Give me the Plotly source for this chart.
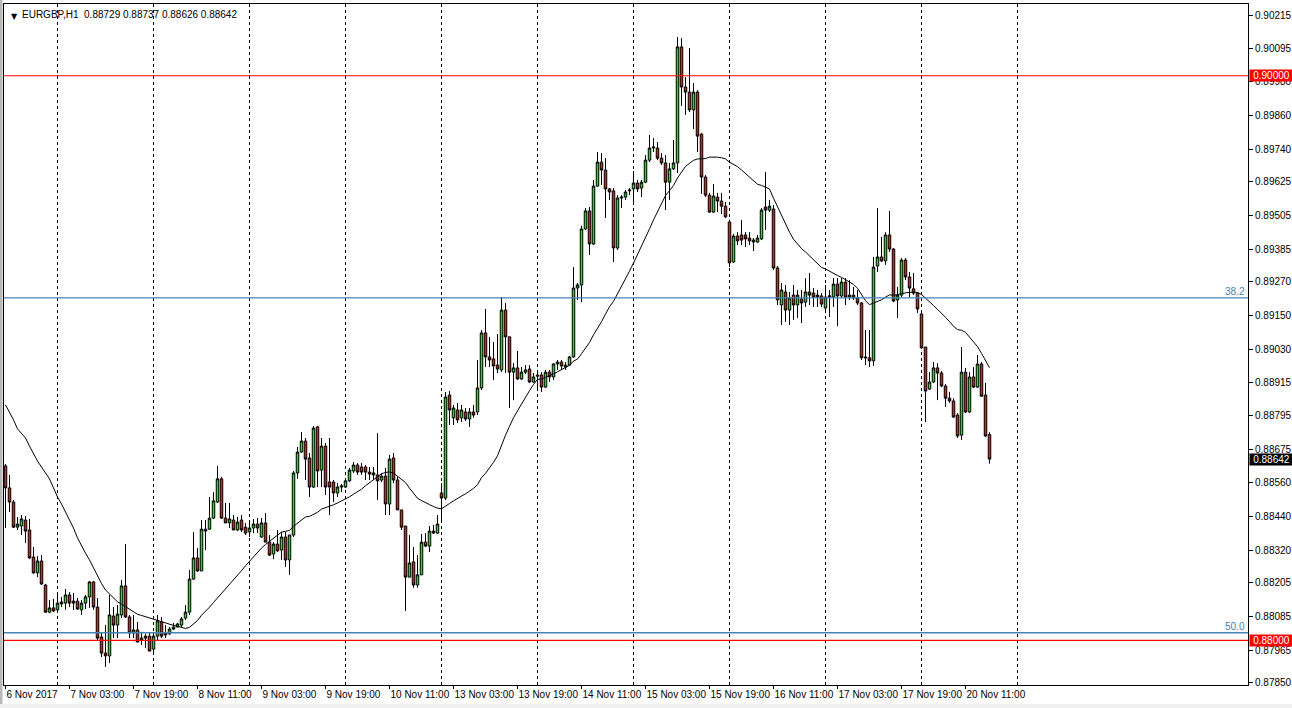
import plotly.graph_objects as go

# ---------------- data (EURGBP, H1) ----------------
opens = [0.88618,0.88540,0.88490,0.88401,0.88405,0.88426,0.88391,0.88295,0.88239,0.88281,
0.88196,0.88100,0.88115,0.88108,0.88129,0.88132,0.88161,0.88139,0.88139,0.88108,
0.88132,0.88154,0.88207,0.88118,0.88012,0.87955,0.87945,0.88086,0.88054,0.88090,
0.88193,0.88083,0.88026,0.88037,0.88001,0.88015,0.88015,0.87969,0.88015,0.88065,
0.88026,0.88023,0.88040,0.88047,0.88054,0.88079,0.88100,0.88217,0.88292,0.88246,
0.88387,0.88394,0.88433,0.88490,0.88572,0.88433,0.88416,0.88426,0.88391,0.88426,
0.88401,0.88384,0.88398,0.88412,0.88366,0.88416,0.88348,0.88306,0.88341,0.88320,
0.88366,0.88285,0.88373,0.88593,0.88667,0.88706,0.88646,0.88543,0.88756,0.88603,
0.88688,0.88561,0.88561,0.88522,0.88543,0.88543,0.88565,0.88600,0.88621,0.88614,
0.88614,0.88596,0.88593,0.88586,0.88568,0.88582,0.88483,0.88646,0.88568,0.88462,
0.88405,0.88224,0.88278,0.88196,0.88232,0.88348,0.88334,0.88387,0.88380,0.88522,
0.88504,0.88869,0.88788,0.88816,0.88788,0.88809,0.88784,0.88809,0.88809,0.88894,
0.89089,0.89004,0.88997,0.88975,0.88958,0.89170,0.89075,0.88950,0.88965,0.88926,
0.88950,0.88961,0.88915,0.88940,0.88940,0.88897,0.88950,0.88933,0.88979,0.88986,
0.88968,0.88975,0.89004,0.89248,0.89259,0.89457,0.89521,0.89404,0.89609,0.89694,
0.89666,0.89599,0.89592,0.89390,0.89567,0.89570,0.89592,0.89599,0.89620,0.89602,
0.89623,0.89701,0.89744,0.89744,0.89708,0.89691,0.89623,0.89670,0.89691,0.90102,
0.89960,0.89942,0.89879,0.89942,0.89793,0.89641,0.89577,0.89517,0.89570,0.89556,
0.89538,0.89482,0.89340,0.89432,0.89436,0.89436,0.89425,0.89418,0.89411,0.89422,
0.89535,0.89524,0.89528,0.89319,0.89188,0.89234,0.89170,0.89223,0.89188,0.89209,
0.89198,0.89234,0.89230,0.89223,0.89220,0.89177,0.89216,0.89216,0.89262,0.89220,
0.89269,0.89216,0.89223,0.89213,0.89195,0.89004,0.89001,0.88990,0.89326,0.89358,
0.89344,0.89436,0.89386,0.89206,0.89223,0.89347,0.89287,0.89245,0.89230,0.89156,
0.89039,0.88890,0.88915,0.88965,0.88947,0.88901,0.88858,0.88848,0.88798,0.88727,
0.88950,0.88809,0.88933,0.88897,0.88979,0.88869,0.88729]

highs = [0.88625,0.88586,0.88497,0.88437,0.88444,0.88440,0.88430,0.88331,0.88299,0.88302,
0.88200,0.88143,0.88147,0.88168,0.88154,0.88182,0.88171,0.88168,0.88150,0.88143,
0.88161,0.88210,0.88210,0.88150,0.88030,0.88054,0.88161,0.88118,0.88125,0.88214,
0.88341,0.88090,0.88090,0.88065,0.88026,0.88023,0.88026,0.88030,0.88090,0.88083,
0.88054,0.88047,0.88062,0.88062,0.88083,0.88125,0.88249,0.88384,0.88327,0.88426,
0.88426,0.88508,0.88525,0.88618,0.88579,0.88487,0.88487,0.88444,0.88437,0.88444,
0.88416,0.88426,0.88430,0.88433,0.88433,0.88451,0.88373,0.88348,0.88391,0.88384,
0.88384,0.88373,0.88600,0.88685,0.88738,0.88717,0.88664,0.88759,0.88759,0.88717,
0.88699,0.88717,0.88568,0.88557,0.88554,0.88575,0.88611,0.88632,0.88628,0.88628,
0.88621,0.88614,0.88614,0.88734,0.88593,0.88611,0.88657,0.88664,0.88579,0.88462,
0.88405,0.88373,0.88331,0.88302,0.88377,0.88380,0.88405,0.88409,0.88444,0.88557,
0.88880,0.88883,0.88834,0.88841,0.88834,0.88823,0.88823,0.88834,0.88993,0.89099,
0.89174,0.89075,0.89057,0.89085,0.89216,0.89195,0.89075,0.88982,0.89025,0.88968,
0.88975,0.88975,0.88947,0.88958,0.88950,0.88958,0.88958,0.88982,0.88993,0.88993,
0.88986,0.89007,0.89322,0.89266,0.89468,0.89531,0.89535,0.89631,0.89730,0.89726,
0.89708,0.89602,0.89602,0.89577,0.89577,0.89595,0.89602,0.89662,0.89631,0.89631,
0.89719,0.89790,0.89779,0.89765,0.89726,0.89719,0.89691,0.89772,0.90137,0.90133,
0.89995,0.90098,0.89974,0.89949,0.89797,0.89648,0.89585,0.89616,0.89585,0.89585,
0.89553,0.89485,0.89439,0.89446,0.89489,0.89446,0.89446,0.89425,0.89436,0.89531,
0.89659,0.89560,0.89542,0.89326,0.89266,0.89259,0.89234,0.89259,0.89241,0.89241,
0.89283,0.89301,0.89248,0.89241,0.89230,0.89259,0.89241,0.89283,0.89283,0.89283,
0.89283,0.89276,0.89252,0.89241,0.89198,0.89099,0.89099,0.89358,0.89531,0.89429,
0.89446,0.89521,0.89390,0.89252,0.89354,0.89354,0.89305,0.89301,0.89234,0.89160,
0.89039,0.88950,0.88986,0.88982,0.88954,0.88908,0.88880,0.88858,0.88805,0.89039,
0.88965,0.88950,0.88968,0.89011,0.88986,0.88912,0.88737]

lows = [0.88398,0.88455,0.88398,0.88391,0.88373,0.88345,0.88288,0.88235,0.88224,0.88196,
0.88097,0.88097,0.88100,0.88100,0.88118,0.88108,0.88118,0.88108,0.88108,0.88090,
0.88111,0.88115,0.88108,0.88001,0.87941,0.87906,0.87920,0.88008,0.88008,0.88079,
0.88079,0.88008,0.88008,0.87994,0.87984,0.87973,0.87962,0.87948,0.88001,0.88008,
0.88008,0.88019,0.88037,0.88047,0.88047,0.88072,0.88090,0.88214,0.88242,0.88246,
0.88320,0.88391,0.88430,0.88487,0.88430,0.88416,0.88398,0.88391,0.88387,0.88384,
0.88373,0.88366,0.88380,0.88380,0.88363,0.88348,0.88299,0.88288,0.88313,0.88285,
0.88260,0.88232,0.88366,0.88572,0.88664,0.88568,0.88508,0.88540,0.88543,0.88543,
0.88515,0.88444,0.88490,0.88508,0.88525,0.88540,0.88561,0.88593,0.88586,0.88586,
0.88568,0.88568,0.88568,0.88497,0.88561,0.88444,0.88444,0.88557,0.88462,0.88391,
0.88104,0.88224,0.88186,0.88186,0.88232,0.88331,0.88313,0.88377,0.88377,0.88416,
0.88497,0.88763,0.88763,0.88770,0.88773,0.88777,0.88756,0.88788,0.88798,0.88887,
0.88968,0.88968,0.88922,0.88947,0.88950,0.88947,0.88823,0.88851,0.88922,0.88922,
0.88943,0.88912,0.88912,0.88894,0.88880,0.88894,0.88915,0.88922,0.88958,0.88958,
0.88958,0.88972,0.89001,0.89206,0.89198,0.89454,0.89365,0.89400,0.89606,0.89613,
0.89496,0.89560,0.89340,0.89383,0.89531,0.89560,0.89577,0.89542,0.89588,0.89570,
0.89620,0.89694,0.89730,0.89701,0.89684,0.89524,0.89560,0.89666,0.89655,0.89893,
0.89861,0.89871,0.89811,0.89730,0.89581,0.89570,0.89514,0.89514,0.89517,0.89510,
0.89496,0.89322,0.89337,0.89400,0.89400,0.89393,0.89400,0.89379,0.89408,0.89418,
0.89454,0.89517,0.89312,0.89188,0.89117,0.89128,0.89117,0.89135,0.89142,0.89124,
0.89181,0.89188,0.89181,0.89181,0.89181,0.89163,0.89145,0.89181,0.89113,0.89213,
0.89188,0.89206,0.89206,0.89188,0.88993,0.88975,0.88968,0.88972,0.89305,0.89340,
0.89330,0.89376,0.89198,0.89142,0.89216,0.89276,0.89216,0.89223,0.89160,0.89032,
0.88773,0.88887,0.88912,0.88851,0.88897,0.88827,0.88841,0.88788,0.88717,0.88710,
0.88805,0.88805,0.88894,0.88894,0.88862,0.88720,0.88626]

closes = [0.88540,0.88490,0.88401,0.88412,0.88430,0.88387,0.88292,0.88239,0.88281,0.88200,
0.88100,0.88115,0.88104,0.88132,0.88136,0.88161,0.88132,0.88132,0.88111,0.88132,
0.88154,0.88207,0.88118,0.88008,0.87955,0.87945,0.88090,0.88054,0.88093,0.88193,
0.88083,0.88026,0.88037,0.87994,0.88008,0.88008,0.87962,0.88015,0.88069,0.88015,
0.88019,0.88040,0.88047,0.88058,0.88076,0.88100,0.88217,0.88292,0.88246,0.88394,
0.88394,0.88433,0.88494,0.88572,0.88433,0.88416,0.88430,0.88391,0.88419,0.88391,
0.88380,0.88398,0.88412,0.88398,0.88416,0.88348,0.88302,0.88341,0.88317,0.88366,
0.88285,0.88373,0.88593,0.88667,0.88706,0.88642,0.88543,0.88752,0.88600,0.88688,
0.88543,0.88543,0.88522,0.88543,0.88547,0.88565,0.88603,0.88621,0.88596,0.88596,
0.88596,0.88589,0.88586,0.88565,0.88582,0.88483,0.88642,0.88568,0.88462,0.88401,
0.88224,0.88274,0.88196,0.88232,0.88348,0.88334,0.88387,0.88380,0.88412,0.88504,
0.88862,0.88816,0.88823,0.88781,0.88816,0.88784,0.88809,0.88798,0.88894,0.89089,
0.89004,0.88993,0.88972,0.88961,0.89170,0.89075,0.88950,0.88965,0.88926,0.88950,
0.88958,0.88915,0.88933,0.88936,0.88897,0.88950,0.88933,0.88979,0.88986,0.88972,
0.88975,0.89004,0.89248,0.89259,0.89457,0.89521,0.89404,0.89609,0.89694,0.89666,
0.89599,0.89588,0.89390,0.89567,0.89570,0.89588,0.89595,0.89620,0.89599,0.89623,
0.89701,0.89744,0.89747,0.89708,0.89691,0.89623,0.89670,0.89691,0.90102,0.89960,
0.89942,0.89879,0.89942,0.89786,0.89641,0.89577,0.89517,0.89574,0.89556,0.89538,
0.89500,0.89337,0.89432,0.89415,0.89418,0.89422,0.89415,0.89411,0.89425,0.89524,
0.89524,0.89538,0.89319,0.89206,0.89241,0.89170,0.89213,0.89188,0.89223,0.89195,
0.89234,0.89223,0.89216,0.89216,0.89191,0.89216,0.89220,0.89262,0.89220,0.89269,
0.89216,0.89223,0.89213,0.89195,0.89001,0.89001,0.88990,0.89322,0.89358,0.89344,
0.89436,0.89386,0.89202,0.89223,0.89347,0.89287,0.89248,0.89230,0.89174,0.89036,
0.88883,0.88915,0.88965,0.88947,0.88901,0.88858,0.88848,0.88791,0.88724,0.88950,
0.88809,0.88933,0.88897,0.88979,0.88865,0.88724,0.88642]

# moving-average values for the first bars (its window starts before the visible data)
ma_head = [0.88834,0.88809,0.88781,0.88749,0.88734,0.88717,0.88688,0.88660,0.88635,0.88614,
0.88593,0.88572,0.88540,0.88508,0.88483,0.88455,0.88426,0.88398,0.88363,0.88334,
0.88309,0.88285,0.88256]
MA_PERIOD = 24

time_tick_bars = [0,16,32,48,64,80,96,112,128,144,160,176,192,208,224,240]
time_tick_text = ["6 Nov 2017","7 Nov 03:00","7 Nov 19:00","8 Nov 11:00","9 Nov 03:00",
                  "9 Nov 19:00","10 Nov 11:00","13 Nov 03:00","13 Nov 19:00","14 Nov 11:00",
                  "15 Nov 03:00","15 Nov 19:00","16 Nov 11:00","17 Nov 03:00","17 Nov 19:00",
                  "20 Nov 11:00"]
price_ticks = [0.90215,0.90095,0.89980,0.89860,0.89740,0.89625,0.89505,0.89385,0.89270,0.89150,
               0.89030,0.88915,0.88795,0.88675,0.88560,0.88440,0.88320,0.88205,0.88085,0.87965,0.87850]
red_levels = [0.90000, 0.88000]
fib_levels = [0.89213, 0.88027]
fib_names = ["38.2", "50.0"]
symbol = "EURGBP,H1"

# ---------------- styling ----------------
FONT = "Liberation Sans, Arial, sans-serif"
FS = 10
BULL = "#00f000"
BEAR = "#ff1010"
FIBC = "#4682b4"
W, H = 1292, 708
ML, MR, MT, MB = 4, 44, 4, 23
PW = W - ML - MR
PH = H - MT - MB
X0 = -0.375
XR = [X0, X0 + PW / 4.0]
YR = [0.878419, 0.902540]

n = len(closes)
xs = list(range(n))
ma = list(ma_head) + [sum(closes[i - MA_PERIOD + 1:i + 1]) / MA_PERIOD for i in range(len(ma_head), n)]

fig = go.Figure()
fig.add_trace(go.Candlestick(
    x=xs, open=opens, high=highs, low=lows, close=closes,
    increasing=dict(fillcolor=BULL, line=dict(color="black", width=1)),
    decreasing=dict(fillcolor=BEAR, line=dict(color="black", width=1)),
    whiskerwidth=0, hoverinfo="skip", showlegend=False))
fig.add_trace(go.Scatter(x=xs, y=ma, mode="lines", line=dict(color="black", width=1),
                         hoverinfo="skip", showlegend=False))

shapes = []
# vertical dashed grid every 24 bars (only over the bar area, as in the terminal)
for k in range(11):
    g = 13 + 24 * k
    shapes.append(dict(type="line", xref="x", yref="paper", x0=g, x1=g, y0=0, y1=1,
                       line=dict(color="black", width=1, dash="3px,3px"), layer="below"))
for lv in red_levels:
    shapes.append(dict(type="line", xref="paper", yref="y", x0=0, x1=1, y0=lv, y1=lv,
                       line=dict(color="#ff0000", width=1.1), layer="above"))
for lv in fib_levels:
    shapes.append(dict(type="line", xref="paper", yref="y", x0=0, x1=1, y0=lv, y1=lv,
                       line=dict(color=FIBC, width=1.3), layer="above"))
# window edge strip on the left
shapes.append(dict(type="rect", xref="paper", yref="paper", x0=-ML / PW, x1=-1.5 / PW,
                   y0=-MB / PH, y1=1 + MT / PH,
                   fillcolor="#b8b8b8", line=dict(width=0), layer="above"))
# light strip at the bottom of the window
shapes.append(dict(type="rect", xref="paper", yref="paper", x0=-ML / PW, x1=1 + MR / PW,
                   y0=-MB / PH, y1=-(MB - 4) / PH,
                   fillcolor="#f0f0f0", line=dict(width=0), layer="above"))

ann = []
ann.append(dict(xref="paper", yref="paper", x=0, y=1, xanchor="left", yanchor="top",
                xshift=5, yshift=-6, text="▼", showarrow=False,
                font=dict(family="DejaVu Sans", size=8, color="black")))
ann.append(dict(xref="paper", yref="paper", x=0, y=1, xanchor="left", yanchor="top",
                xshift=16, yshift=-3, showarrow=False,
                text=symbol + "\u00a0\u00a0" + " ".join(f"{v:.5f}" for v in
                     [opens[-1], highs[-1], lows[-1], closes[-1]]),
                font=dict(family=FONT, size=FS, color="black")))
for lv, nm in zip(fib_levels, fib_names):
    ann.append(dict(xref="paper", yref="y", x=1, y=lv, xanchor="right", yanchor="bottom",
                    xshift=-1, yshift=-1, text=nm, showarrow=False,
                    font=dict(family=FONT, size=FS, color=FIBC)))
for lv in red_levels:
    ann.append(dict(xref="paper", yref="y", x=1, y=lv, xanchor="left", yanchor="middle",
                    xshift=1, text=f"{lv:.5f}", showarrow=False, bgcolor="#ff0000",
                    width=43, height=11, borderpad=0,
                    font=dict(family=FONT, size=FS, color="white")))
ann.append(dict(xref="paper", yref="y", x=1, y=closes[-1], xanchor="left", yanchor="middle",
                xshift=1, text=f"{closes[-1]:.5f}", showarrow=False, bgcolor="black",
                width=43, height=11, borderpad=0,
                font=dict(family=FONT, size=FS, color="white")))

fig.update_layout(
    width=W, height=H, margin=dict(l=ML, r=MR, t=MT, b=MB, pad=0, autoexpand=False),
    paper_bgcolor="white", plot_bgcolor="white",
    font=dict(family=FONT, size=FS, color="black"),
    hovermode=False, dragmode=False, showlegend=False,
    boxgap=0.375, boxgroupgap=0,
    shapes=shapes, annotations=ann,
    xaxis=dict(range=XR, tickmode="array", tickvals=time_tick_bars, ticktext=time_tick_text,
               ticks="outside", ticklen=3, tickcolor="black", ticklabelposition="outside right",
               tickangle=0, automargin=False,
               tickfont=dict(family=FONT, size=FS, color="black"),
               showgrid=False, zeroline=False, showline=True, linecolor="black",
               linewidth=1, mirror=True, rangeslider=dict(visible=False), fixedrange=True),
    yaxis=dict(range=YR, side="right", tickmode="array", tickvals=price_ticks,
               ticktext=[f"{v:.5f}" for v in price_ticks], automargin=False,
               ticks="outside", ticklen=4, tickcolor="black",
               tickfont=dict(family=FONT, size=FS, color="black"),
               showgrid=False, zeroline=False, showline=True, linecolor="black",
               linewidth=1, mirror=True, fixedrange=True),
)

fig.write_html("out.html", config={"displayModeBar": False, "staticPlot": True},
               post_script="document.body.style.margin='0';document.body.style.overflow='hidden';")
